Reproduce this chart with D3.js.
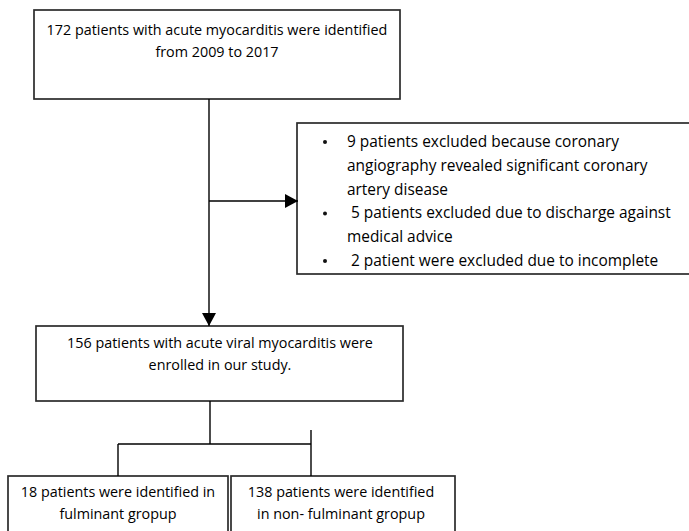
<!DOCTYPE html>
<html>
<head>
<meta charset="utf-8">
<script src="https://cdn.jsdelivr.net/npm/d3@7"></script>
<style>
  html, body { margin: 0; padding: 0; background: #fff; }
  svg { display: block; }
  text { font-family: "Open Sans", "Liberation Sans", sans-serif; fill: #000; }
</style>
</head>
<body>
<svg id="chart" width="689" height="531"></svg>
<script>
// ---- Data (texts of the flowchart) ----
const topBoxLines = ["172 patients with acute myocarditis were identified", "from 2009 to 2017"];
const exclusionBullets = [
  ["9 patients excluded because coronary", "angiography revealed significant coronary", "artery disease"],
  [" 5 patients excluded due to discharge against", "medical advice"],
  [" 2 patient were excluded due to incomplete"]
];
const enrolledLines = ["156 patients with acute viral myocarditis were", "enrolled in our study."];
const groupLines = [
  ["18 patients were identified in", "fulminant gropup"],
  ["138 patients were identified", "in non- fulminant gropup"]
];

const svg = d3.select("#chart");

// layout
const boxes = {
  top: {x0: 34, y0: 10, x1: 400, y1: 99},
  excl: {x0: 297, y0: 123, x1: 692, y1: 274},
  enrolled: {x0: 36, y0: 326, x1: 403, y1: 401},
  g0: {x0: 8, y0: 476, x1: 228, y1: 540},
  g1: {x0: 231, y0: 476, x1: 455, y1: 540}
};
const boxStroke = "#2b2b2b";
const lineStroke = "#000";

// pick font size so that lines span their widths in the reference
function fitSize(txt, target) {
  const probe = svg.append("text").attr("font-size", 12).text(txt);
  const w = probe.node().getComputedTextLength();
  probe.remove();
  return 12 * target / w;
}
const FS = fitSize(topBoxLines[0], 341);
const FSB = fitSize(exclusionBullets[1][0].trim(), 320);

svg.append("defs").append("marker")
  .attr("id", "arrow").attr("viewBox", "0 0 10 10")
  .attr("refX", 10).attr("refY", 5)
  .attr("markerWidth", 13).attr("markerHeight", 14)
  .attr("markerUnits", "userSpaceOnUse")
  .attr("orient", "auto")
  .attr("preserveAspectRatio", "none")
  .append("path").attr("d", "M0,0 L10,5 L0,10 Z").attr("fill", "#000");

function drawBox(b) {
  svg.append("rect")
    .attr("x", b.x0).attr("y", b.y0)
    .attr("width", b.x1 - b.x0).attr("height", b.y1 - b.y0)
    .attr("fill", "none").attr("stroke", boxStroke).attr("stroke-width", 1.7);
}
Object.values(boxes).forEach(drawBox);

function centeredLines(lines, cx, y0, dy) {
  svg.append("g").selectAll("text").data(lines).join("text")
    .attr("x", cx).attr("y", (d, i) => y0 + i * dy)
    .attr("text-anchor", "middle")
    .attr("font-size", FS)
    .text(d => d);
}

centeredLines(topBoxLines, 217, 35, 22);
centeredLines(enrolledLines, 220, 348, 22);
centeredLines(groupLines[0], 118, 497, 22);
centeredLines(groupLines[1], 341, 497, 22);

// bullets
const flat = [];
exclusionBullets.forEach(b => b.forEach((l, j) => flat.push({text: l, first: j === 0})));
const g = svg.append("g");
const y0b = 147, dyb = 23.8;
g.selectAll("text.l").data(flat).join("text")
  .attr("class", "l")
  .attr("x", 347).attr("y", (d, i) => y0b + i * dyb)
  .attr("font-size", FSB)
  .attr("xml:space", "preserve")
  .style("white-space", "pre")
  .text(d => d.text);
g.selectAll("circle.b").data(flat.map((d, i) => ({...d, i})).filter(d => d.first)).join("circle")
  .attr("class", "b")
  .attr("cx", 325).attr("cy", d => y0b + d.i * dyb - 5)
  .attr("r", 2)
  .attr("fill", "#111");

// connectors
const line = d3.line();
function path(pts, arrow) {
  const p = svg.append("path").attr("d", line(pts))
    .attr("fill", "none").attr("stroke", lineStroke).attr("stroke-width", 1.4);
  if (arrow) p.attr("marker-end", "url(#arrow)");
}
const cx = 209;
path([[cx, boxes.top.y1], [cx, boxes.enrolled.y0]], true);
path([[cx, 201], [boxes.excl.x0 + 1, 201]], true);
path([[210, boxes.enrolled.y1], [210, 444]]);
path([[118, 444], [311, 444]]);
path([[118, 444], [118, boxes.g0.y0]]);
path([[311, 430], [311, boxes.g1.y0]]);
</script>
</body>
</html>
